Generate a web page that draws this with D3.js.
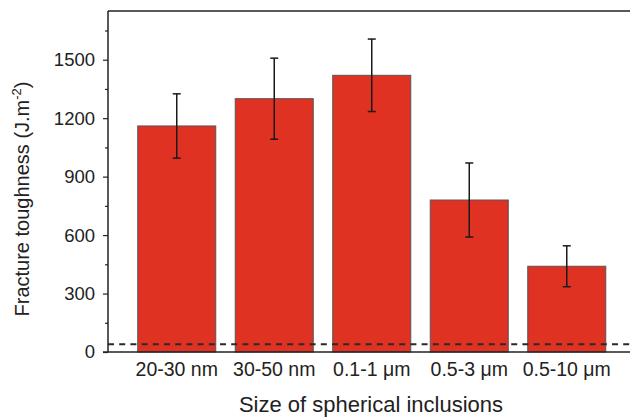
<!DOCTYPE html>
<html><head><meta charset="utf-8">
<script src="https://cdn.jsdelivr.net/npm/d3@7"></script>
<style>
html,body{margin:0;padding:0;background:#fff;}
svg{display:block;font-family:"Liberation Sans",Arial,sans-serif;}
</style></head>
<body>
<svg id="c" width="630" height="418"></svg>
<script>
const categories = ["20-30 nm", "30-50 nm", "0.1-1 μm", "0.5-3 μm", "0.5-10 μm"];
const toughness = [1160, 1300, 1420, 780, 440];
const errors = [165, 208, 186, 190, 105];
const yTicks = [0, 300, 600, 900, 1200, 1500];
const yMinorTicks = [150, 450, 750, 1050, 1350, 1650];
const referenceLevel = 40;

const svg = d3.select("#c");
const mLeft = 108, mRight = 635.5, mTop = 11, mBottom = 352;

const x = d3.scaleBand().domain(categories).range([mLeft, mRight]).paddingInner(0.2).paddingOuter(0.305);
const y = d3.scaleLinear().domain([0, 1750]).range([mBottom, mTop]);

// bars
svg.append("g").selectAll("rect").data(categories).join("rect")
  .attr("x", d => x(d)).attr("width", x.bandwidth())
  .attr("y", (d, i) => y(toughness[i])).attr("height", (d, i) => mBottom - y(toughness[i]))
  .attr("fill", "#e03223").attr("stroke", "#555").attr("stroke-width", 1);

// dashed reference line
svg.append("line").attr("x1", mLeft).attr("x2", 630)
  .attr("y1", y(referenceLevel)).attr("y2", y(referenceLevel))
  .attr("stroke", "#2a2a2a").attr("stroke-width", 1.9).attr("stroke-dasharray", "6,5.2");

// error bars
const eb = svg.append("g").attr("stroke", "#1a1a1a").attr("stroke-width", 1.5);
categories.forEach((c, i) => {
  const cx = x(c) + x.bandwidth() / 2;
  const hi = y(toughness[i] + errors[i]), lo = y(toughness[i] - errors[i]);
  eb.append("line").attr("x1", cx).attr("x2", cx).attr("y1", hi).attr("y2", lo);
  eb.append("line").attr("x1", cx - 4).attr("x2", cx + 4).attr("y1", hi).attr("y2", hi);
  eb.append("line").attr("x1", cx - 4).attr("x2", cx + 4).attr("y1", lo).attr("y2", lo);
});

// y axis
const yAxis = d3.axisLeft(y).tickValues(yTicks).tickSize(5).tickPadding(8).tickFormat(d3.format("d"));
const ga = svg.append("g").attr("transform", `translate(${mLeft},0)`).call(yAxis);
ga.select(".domain").remove();
ga.selectAll("text").attr("font-size", 18.5).attr("fill", "#222").attr("font-family", "Liberation Sans, Arial, sans-serif");
ga.selectAll("line").attr("stroke", "#222").attr("stroke-width", 1.2);
const gm = svg.append("g").attr("transform", `translate(${mLeft},0)`)
  .call(d3.axisLeft(y).tickValues(yMinorTicks).tickSize(3).tickFormat(""));
gm.select(".domain").remove();
gm.selectAll("line").attr("stroke", "#222").attr("stroke-width", 1.2);

// frame
svg.append("line").attr("x1", mLeft).attr("x2", mLeft).attr("y1", mTop).attr("y2", mBottom).attr("stroke", "#222").attr("stroke-width", 1.5);
svg.append("line").attr("x1", mLeft).attr("x2", 630).attr("y1", mTop).attr("y2", mTop).attr("stroke", "#222").attr("stroke-width", 1.5);
svg.append("line").attr("x1", mLeft - 5).attr("x2", 630).attr("y1", mBottom).attr("y2", mBottom).attr("stroke", "#222").attr("stroke-width", 1.5);

// x axis labels
const gx = svg.append("g").attr("transform", `translate(0,${mBottom})`)
  .call(d3.axisBottom(x).tickSize(0).tickPadding(10));
gx.select(".domain").remove();
gx.selectAll("text").attr("font-size", 19.5).attr("fill", "#222").attr("font-family", "Liberation Sans, Arial, sans-serif");

// axis titles
svg.append("text").attr("x", 371).attr("y", 412).attr("text-anchor", "middle")
  .attr("font-size", 22).attr("fill", "#222").text("Size of spherical inclusions");
const yt = svg.append("text").attr("transform", "translate(29,199) rotate(-90)")
  .attr("text-anchor", "middle").attr("font-size", 20).attr("fill", "#222");
yt.append("tspan").text("Fracture toughness (J.m");
yt.append("tspan").attr("font-size", 13).attr("dy", -8).text("-2");
yt.append("tspan").attr("dy", 8).text(")");
</script>
</body></html>
